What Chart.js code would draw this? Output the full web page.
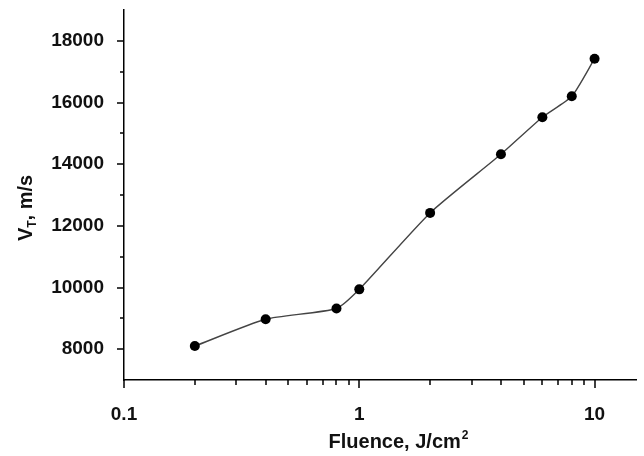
<!DOCTYPE html>
<html>
<head>
<meta charset="utf-8">
<script src="https://cdn.jsdelivr.net/npm/chart.js@4.4.1/dist/chart.umd.min.js"></script>
<style>
  html, body { margin: 0; padding: 0; background: #fff; }
  #wrap { width: 644px; height: 456px; }
</style>
</head>
<body>
<div id="wrap"><canvas id="fluenceChart"></canvas></div>
<script>
// data
const fluence = [0.2, 0.4, 0.8, 1, 2, 4, 6, 8, 10];
const velocity = [8100, 8970, 9320, 9940, 12420, 14320, 15520, 16200, 17420];

// tick values
const xMajorTicks = [0.1, 1, 10];
const xMinorTicks = [0.2, 0.3, 0.4, 0.5, 0.6, 0.7, 0.8, 0.9, 2, 3, 4, 5, 6, 7, 8, 9];
const yMajorTicks = [8000, 10000, 12000, 14000, 16000, 18000];
const yMinorTicks = [9000, 11000, 13000, 15000, 17000];

const FONT = '"Liberation Sans", Arial, sans-serif';

// outward tick marks + axis titles (with sub/superscript)
const axisDecor = {
    id: 'axisDecor',
    afterDraw(chart) {
        const { ctx, scales: { x, y }, chartArea } = chart;
        ctx.save();
        ctx.strokeStyle = '#000';
        ctx.lineWidth = 1.5;
        ctx.beginPath();
        xMajorTicks.forEach(v => {
            const px = Math.round(x.getPixelForValue(v));
            ctx.moveTo(px, chartArea.bottom); ctx.lineTo(px, chartArea.bottom + 8);
        });
        xMinorTicks.forEach(v => {
            const px = Math.round(x.getPixelForValue(v));
            ctx.moveTo(px, chartArea.bottom); ctx.lineTo(px, chartArea.bottom + 5);
        });
        yMajorTicks.forEach(v => {
            const py = Math.round(y.getPixelForValue(v));
            ctx.moveTo(chartArea.left, py); ctx.lineTo(chartArea.left - 7, py);
        });
        yMinorTicks.forEach(v => {
            const py = Math.round(y.getPixelForValue(v));
            ctx.moveTo(chartArea.left, py); ctx.lineTo(chartArea.left - 4, py);
        });
        ctx.stroke();

        ctx.fillStyle = '#111';
        ctx.textBaseline = 'alphabetic';
        ctx.textAlign = 'left';

        // x title: Fluence, J/cm²
        const big = 'bold 20px ' + FONT, small = 'bold 12px ' + FONT;
        ctx.font = big;
        const main = 'Fluence, J/cm';
        const wMain = ctx.measureText(main).width;
        ctx.font = small;
        const wSup = ctx.measureText('2').width;
        const cx = 398;
        let sx = cx - (wMain + wSup) / 2;
        ctx.font = big;
        ctx.fillText(main, sx, 448);
        ctx.font = small;
        ctx.fillText('2', sx + wMain + 1, 439);

        // y title: V_T, m/s
        ctx.translate(32, 208);
        ctx.rotate(-Math.PI / 2);
        ctx.font = big;
        const wV = ctx.measureText('V').width;
        const rest = ', m/s';
        const wRest = ctx.measureText(rest).width;
        ctx.font = small;
        const wT = ctx.measureText('T').width;
        let ty = -(wV + wT + wRest) / 2;
        ctx.font = big;
        ctx.fillText('V', ty, 0);
        ctx.font = small;
        ctx.fillText('T', ty + wV, 4);
        ctx.font = big;
        ctx.fillText(rest, ty + wV + wT, 0);
        ctx.restore();
    }
};

new Chart(document.getElementById('fluenceChart'), {
    type: 'scatter',
    data: {
        datasets: [{
            data: fluence.map((f, i) => ({ x: f, y: velocity[i] })),
            showLine: true,
            tension: 0.2,
            borderColor: '#444',
            borderWidth: 1.4,
            pointRadius: 5,
            pointBackgroundColor: '#000',
            pointBorderColor: '#000',
            pointBorderWidth: 0,
        }]
    },
    options: {
        responsive: true,
        maintainAspectRatio: false,
        animation: false,
        layout: { padding: { top: 10, right: 8, left: 0, bottom: 0 } },
        plugins: { legend: { display: false }, tooltip: { enabled: false } },
        scales: {
            x: {
                type: 'logarithmic',
                min: 0.1,
                max: 15,
                afterBuildTicks: s => { s.ticks = xMajorTicks.map(v => ({ value: v })); },
                afterFit: s => { s.height = 76; s.paddingLeft = 0; s.paddingRight = 0; },
                grid: { display: false },
                border: { color: '#000', width: 1.5 },
                ticks: {
                    autoSkip: false,
                    maxRotation: 0,
                    padding: 15,
                    color: '#111',
                    font: { family: FONT, size: 19, weight: 'bold' },
                    callback: v => String(v),
                }
            },
            y: {
                min: 7000,
                max: 19000,
                afterBuildTicks: s => { s.ticks = yMajorTicks.map(v => ({ value: v })); },
                afterFit: s => { s.width = 124; s.paddingTop = 0; s.paddingBottom = 0; },
                grid: { display: false },
                border: { color: '#000', width: 1.5 },
                ticks: {
                    autoSkip: false,
                    padding: 12,
                    color: '#111',
                    font: { family: FONT, size: 19, weight: 'bold' },
                    callback: v => String(v),
                }
            }
        }
    },
    plugins: [axisDecor]
});
</script>
</body>
</html>
